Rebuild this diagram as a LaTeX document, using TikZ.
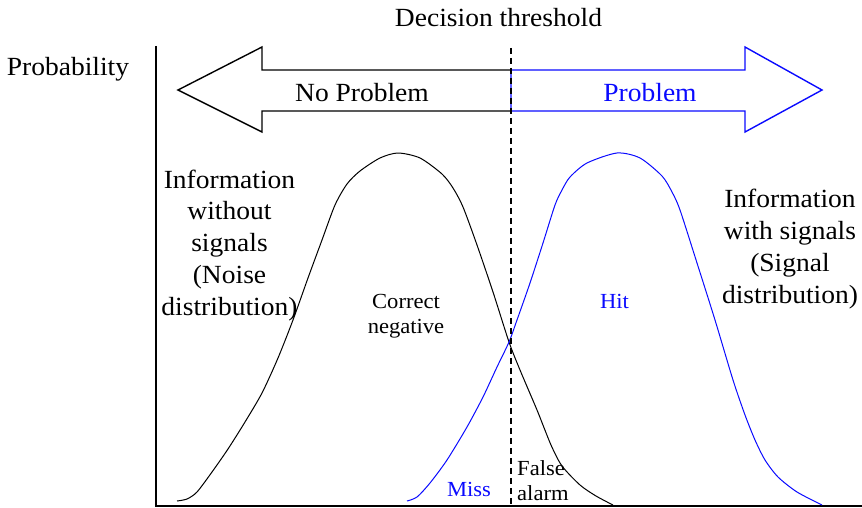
\documentclass[tikz,border=0pt]{standalone}
\usepackage{fontspec}
\setmainfont[FakeStretch=1.05]{Liberation Serif}
\definecolor{sigblue}{RGB}{10,10,255}
\begin{document}
\begin{tikzpicture}[x=1pt,y=-1pt,
  big/.style={font=\fontsize{26.2}{31.7}\selectfont, inner sep=0pt, anchor=base, align=center},
  small/.style={font=\fontsize{21.5}{24.5}\selectfont, inner sep=0pt, anchor=base, align=center},
  curve/.style={line width=1pt, line join=round},
  axisline/.style={line width=1.8pt},
  arrowline/.style={line width=1.4pt, line join=miter},
  threshline/.style={line width=1.2pt, dash pattern=on 6pt off 4pt}]
\useasboundingbox (0,0) rectangle (862,508);
% axes
\coordinate (ytop) at (156,46);
\coordinate (origin) at (156,506);
\coordinate (xend) at (862,506);
\draw[axisline] (ytop) -- (origin) -- (xend);
% double arrow
\draw[arrowline] (511,70) -- (262,70) -- (262,47) -- (178,90) -- (262,132) -- (262,111) -- (511,111);
\draw[arrowline, sigblue] (511,70) -- (745,70) -- (745,47) -- (822,90) -- (745,132) -- (745,111) -- (511,111) -- cycle;
% noise distribution
\draw[curve] plot[smooth, tension=0.45] coordinates {(177,501) (187,499) (197,492) (212,472) (228,449) (245,422) (262,393) (278,358) (293,320) (308,278) (322,240) (335,205) (347,184) (360,171) (380,158) (398,153) (420,158) (442,174) (453,188) (463,207) (477,245) (493,292) (509,342) (520,370) (537,410) (551,445) (562,466) (580,485) (596,496) (613,505)};
% signal distribution
\draw[curve, sigblue] plot[smooth, tension=0.45] coordinates {(407,501) (417,497) (430,483) (447,460) (467,427) (483,397) (497,367) (509,342) (517,320) (530,283) (543,243) (555,205) (562,190) (570,177) (587,163) (617,153) (640,158) (662,176) (672,192) (680,210) (697,263) (715,320) (733,380) (745,415) (755,440) (765,460) (778,477) (797,492) (822,505)};
% threshold
\coordinate (thtop) at (511,48);
\coordinate (thbot) at (511,506);
\draw[threshline] (thtop) -- (thbot);
% texts (base anchor = baseline of the last line)
\node[big] (prob) at (68,76) {Probability};
\node[big] (dt) at (498.5,27) {Decision threshold};
\node[big] (np) at (362,102) {No Problem};
\node[big, text=sigblue] (pr) at (650,102) {Problem};
\node[big] (noise) at (229.5,315) {Information\\without\\signals\\(Noise\\distribution)};
\node[big] (signal) at (790,303) {Information\\with signals\\(Signal\\distribution)};
\node[small] (cn) at (406,333) {Correct\\negative};
\node[small, text=sigblue] (hit) at (614.5,308) {Hit};
\node[small, text=sigblue] (miss) at (469,496) {Miss};
\node[small, anchor=base west, align=left] (fa) at (517,500) {False\\alarm};
\end{tikzpicture}
\end{document}
